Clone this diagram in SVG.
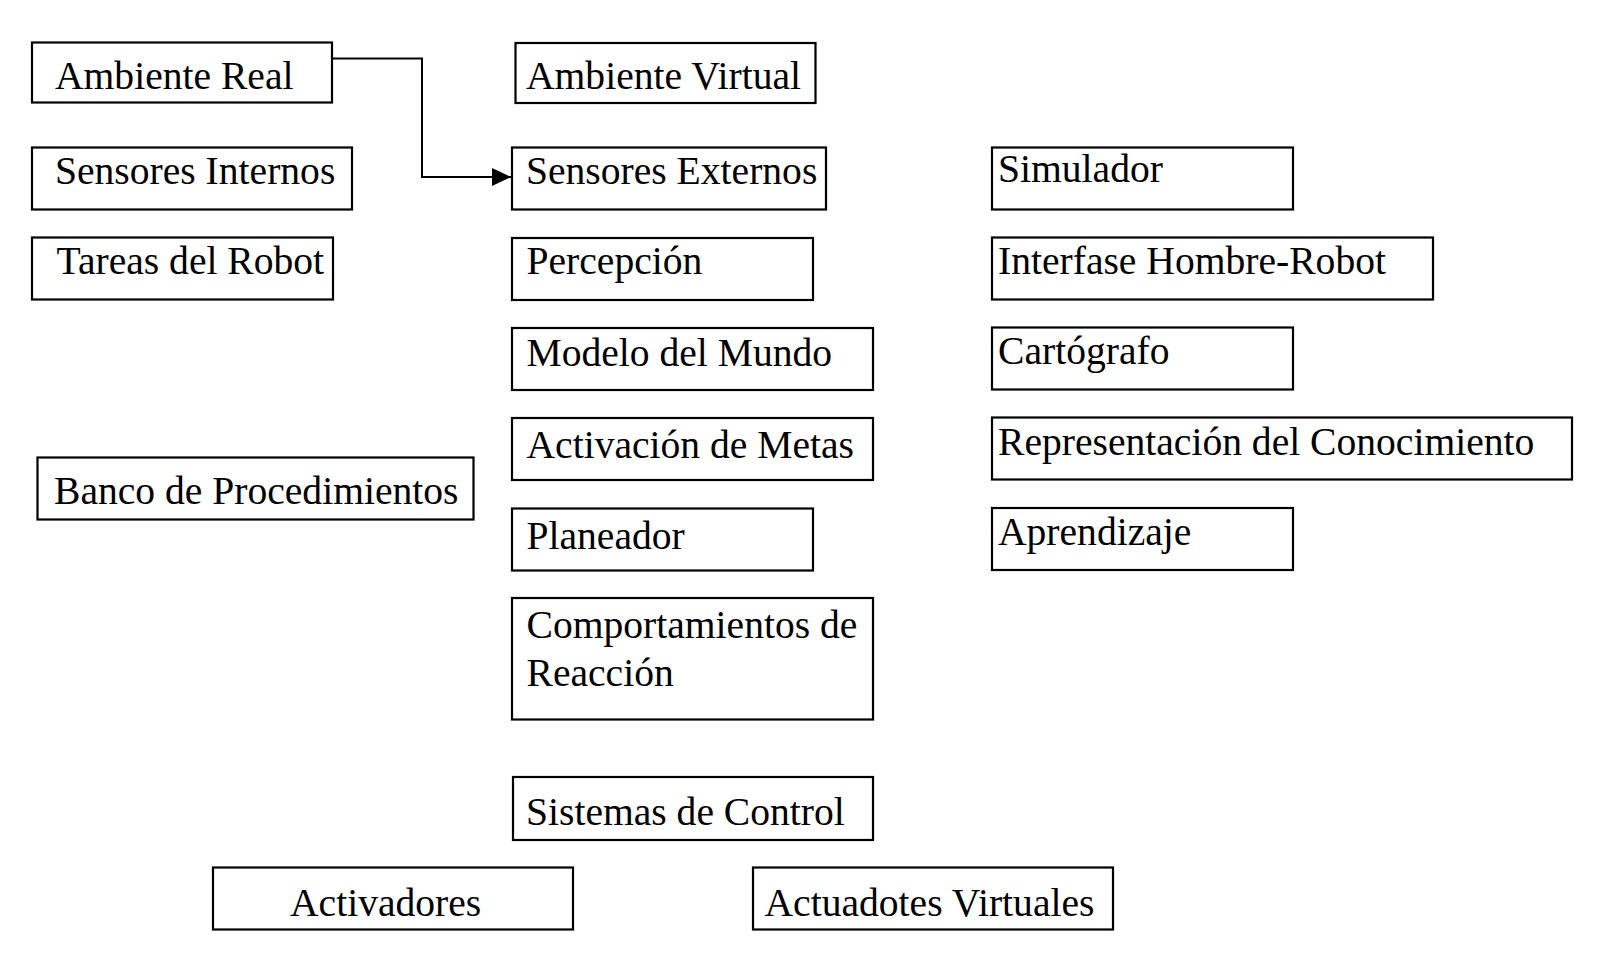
<svg xmlns="http://www.w3.org/2000/svg" width="1602" height="956" viewBox="0 0 1602 956">
<defs>
<style>
.b{fill:#fff;stroke:#000;stroke-width:2.2}
.t{font-family:"Liberation Serif","Times New Roman",Times,Tinos,"Nimbus Roman","Nimbus Roman No9 L",FreeSerif,"Noto Serif","DejaVu Serif",Georgia,serif;font-size:39.6px;fill:#000}
.c{fill:none;stroke:#000;stroke-width:2}
</style>
<marker id="ah" markerUnits="userSpaceOnUse" markerWidth="20" markerHeight="18" refX="19" refY="9" orient="auto">
<path d="M0,0 L19,9 L0,18 Z" fill="#000"/>
</marker>
</defs>
<rect width="1602" height="956" fill="#fff"/>
<g id="connectors">
<path class="c" d="M333,58.5 H422 V177 H511" marker-end="url(#ah)"/>
</g>
<g id="ambiente-real"><rect class="b" x="32" y="42.5" width="300" height="60"/><text class="t" x="55" y="88.5">Ambiente Real</text></g>
<g id="ambiente-virtual"><rect class="b" x="515.5" y="43" width="300" height="60"/><text class="t" x="526" y="88.5">Ambiente Virtual</text></g>
<g id="sensores-internos"><rect class="b" x="32" y="147.5" width="320" height="62"/><text class="t" x="55" y="183.5">Sensores Internos</text></g>
<g id="sensores-externos"><rect class="b" x="512" y="147.5" width="314" height="62"/><text class="t" x="526" y="183.5">Sensores Externos</text></g>
<g id="simulador"><rect class="b" x="992" y="147.5" width="301" height="62"/><text class="t" x="998" y="181.5">Simulador</text></g>
<g id="tareas"><rect class="b" x="32" y="237.5" width="301" height="62"/><text class="t" x="56.5" y="273.5">Tareas del Robot</text></g>
<g id="percepcion"><rect class="b" x="512" y="238" width="301" height="62"/><text class="t" x="526.5" y="273.5">Percepción</text></g>
<g id="interfase"><rect class="b" x="992" y="237.5" width="441" height="62"/><text class="t" x="998" y="273.5">Interfase Hombre-Robot</text></g>
<g id="modelo"><rect class="b" x="512" y="328" width="361" height="62"/><text class="t" x="526.5" y="365.5">Modelo del Mundo</text></g>
<g id="cartografo"><rect class="b" x="992" y="327.5" width="301" height="62"/><text class="t" x="998" y="363.5">Cartógrafo</text></g>
<g id="activacion"><rect class="b" x="512" y="418" width="361" height="62"/><text class="t" x="526.5" y="457.5">Activación de Metas</text></g>
<g id="representacion"><rect class="b" x="992" y="417.5" width="580" height="62"/><text class="t" x="998" y="455">Representación del Conocimiento</text></g>
<g id="banco"><rect class="b" x="37.5" y="457.5" width="436" height="62"/><text class="t" x="54" y="504">Banco de Procedimientos</text></g>
<g id="planeador"><rect class="b" x="512" y="508.5" width="301" height="62"/><text class="t" x="526.5" y="548.5">Planeador</text></g>
<g id="aprendizaje"><rect class="b" x="992" y="508" width="301" height="62"/><text class="t" x="998" y="545">Aprendizaje</text></g>
<g id="comportamientos"><rect class="b" x="512" y="598" width="361" height="121.5"/><text class="t" x="526.5" y="637.5">Comportamientos de</text><text class="t" x="526.5" y="685.5">Reacción</text></g>
<g id="sistemas"><rect class="b" x="513" y="777" width="360" height="63"/><text class="t" x="526" y="825">Sistemas de Control</text></g>
<g id="activadores"><rect class="b" x="213" y="867.5" width="360" height="62"/><text class="t" x="290" y="916">Activadores</text></g>
<g id="actuadotes"><rect class="b" x="753" y="867.5" width="360" height="62"/><text class="t" x="764.5" y="916">Actuadotes Virtuales</text></g>
</svg>
